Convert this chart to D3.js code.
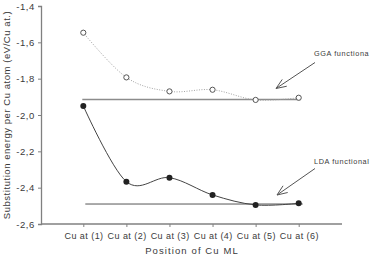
<!DOCTYPE html>
<html><head><meta charset="utf-8">
<script src="https://cdn.jsdelivr.net/npm/d3@7"></script>
<style>html,body{margin:0;padding:0;background:#fff;}svg{display:block;font-family:"Liberation Sans",Arial,sans-serif;}</style>
</head><body>
<svg id="c" width="370" height="259"></svg>
<script>
const categories = ["Cu at (1)","Cu at (2)","Cu at (3)","Cu at (4)","Cu at (5)","Cu at (6)"];
const ggaValues = [-1.547,-1.793,-1.870,-1.861,-1.917,-1.905];
const ldaValues = [-1.950,-2.367,-2.345,-2.440,-2.495,-2.486];
const ggaRef = -1.915;
const ldaRef = -2.490;
const yTicks = [-1.4,-1.6,-1.8,-2.0,-2.2,-2.4,-2.6];
const yLabel = "Substitution energy per Cu atom (eV/Cu at.)";
const xLabel = "Position of Cu ML";
const ggaText = "GGA functiona";
const ldaText = "LDA functional";

const svg = d3.select("#c");
const x = d3.scalePoint().domain(categories).range([83.3,298.7]);
const y = d3.scaleLinear().domain([-2.6,-1.4]).range([224,6]);
const axisColor = "#808080", textColor = "#3a3a3a";
const ff = "Liberation Sans, Arial, sans-serif";

// axes
const yAxis = svg.append("g").attr("transform","translate(41,0)")
  .call(d3.axisLeft(y).tickValues(yTicks).tickSize(3).tickPadding(3)
    .tickFormat(d => d.toFixed(1).replace(".",",")));
const xAxis = svg.append("g").attr("transform","translate(0,224)")
  .call(d3.axisBottom(x).tickSize(3).tickPadding(6));
xAxis.select(".domain").attr("d","M41,0H342");
[yAxis,xAxis].forEach(g=>{
  g.attr("font-family",ff);
  g.select(".domain").attr("stroke",axisColor).attr("stroke-width",1.3);
  g.selectAll(".tick line").attr("stroke",axisColor);
  g.selectAll(".tick text").attr("fill",textColor).attr("font-size",9.5).attr("letter-spacing",0.6);
});
xAxis.selectAll(".tick text").attr("font-size",9).attr("letter-spacing",0.45).attr("dx",0.2);

svg.append("text").attr("transform","translate(10,115) rotate(-90)")
  .attr("text-anchor","middle").attr("font-size",9.5).attr("fill",textColor)
  .attr("letter-spacing",0.55).text(yLabel);
svg.append("text").attr("x",192).attr("y",254).attr("text-anchor","middle")
  .attr("font-size",9.5).attr("fill",textColor).attr("letter-spacing",1.1).text(xLabel);

// reference lines
const first = categories[0], last = categories[categories.length-1];
svg.append("line").attr("x1",x(first)-1).attr("x2",x(last)+2)
  .attr("y1",y(ggaRef)).attr("y2",y(ggaRef)).attr("stroke","#8c8c8c").attr("stroke-width",1.6);
svg.append("line").attr("x1",x(first)+2).attr("x2",x(last)+4)
  .attr("y1",y(ldaRef)).attr("y2",y(ldaRef)).attr("stroke","#555").attr("stroke-width",1);

// curves
const line = d3.line().x((d,i)=>x(categories[i])).y(d=>y(d)).curve(d3.curveCatmullRom.alpha(0));
svg.append("path").attr("d",line(ggaValues)).attr("fill","none").attr("stroke","#999")
  .attr("stroke-width",0.9).attr("stroke-dasharray","1,1.5");
svg.append("path").attr("d",line(ldaValues)).attr("fill","none").attr("stroke","#444").attr("stroke-width",1);

svg.selectAll(".gga").data(ggaValues).enter().append("circle")
  .attr("cx",(d,i)=>x(categories[i])).attr("cy",d=>y(d)).attr("r",2.6)
  .attr("fill","#fff").attr("stroke","#555").attr("stroke-width",1);
svg.selectAll(".lda").data(ldaValues).enter().append("circle")
  .attr("cx",(d,i)=>x(categories[i])).attr("cy",d=>y(d)).attr("r",3)
  .attr("fill","#222");

// annotations with open arrowheads
function arrow(x1,y1,x2,y2){
  const g = svg.append("g").attr("stroke","#555").attr("stroke-width",1).attr("fill","none");
  g.append("line").attr("x1",x1).attr("y1",y1).attr("x2",x2).attr("y2",y2);
  const a = Math.atan2(y2-y1,x2-x1), L=11, s=0.38;
  [a+Math.PI-s,a+Math.PI+s].forEach(t=>{
    g.append("line").attr("x1",x2).attr("y1",y2).attr("x2",x2+L*Math.cos(t)).attr("y2",y2+L*Math.sin(t));
  });
}
arrow(315,62.5,276,88.5);
arrow(315,168.5,277,195);
svg.append("text").attr("x",314).attr("y",56).attr("font-family",ff).attr("font-size",7.3).attr("fill",textColor).attr("letter-spacing",0.6).text(ggaText);
svg.append("text").attr("x",314).attr("y",164).attr("font-family",ff).attr("font-size",7.3).attr("fill",textColor).attr("letter-spacing",0.6).text(ldaText);
</script>
</body></html>
